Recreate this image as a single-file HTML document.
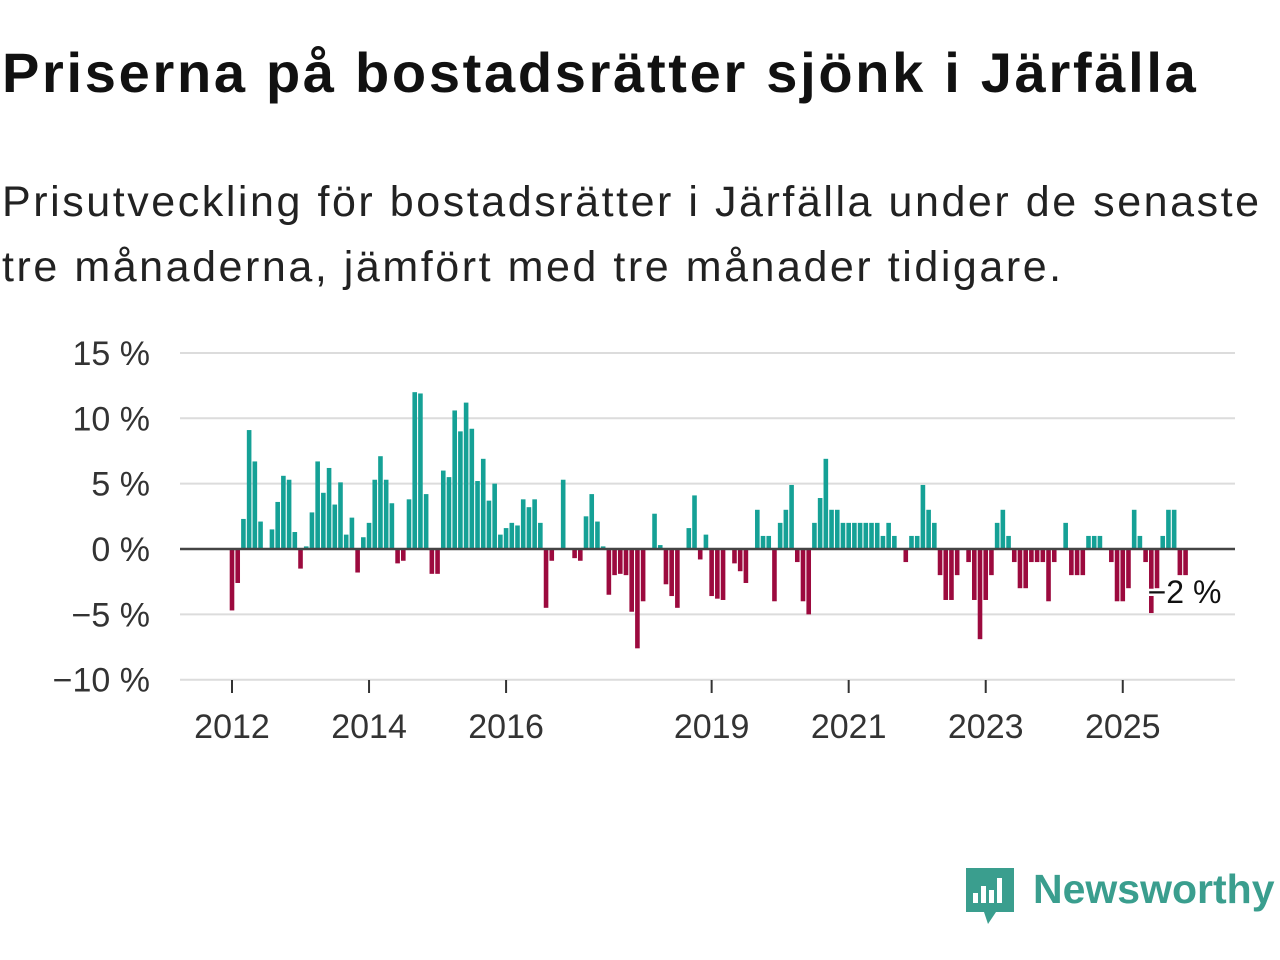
<!DOCTYPE html>
<html><head><meta charset="utf-8"><style>
body{margin:0;width:1280px;height:960px;background:#fff;overflow:hidden;font-family:"Liberation Sans","DejaVu Sans",sans-serif;}
#title{position:absolute;left:2px;top:40px;font-size:56px;font-weight:bold;color:#111;margin:0;letter-spacing:2.7px;white-space:nowrap}
#sub{position:absolute;left:2px;top:170px;font-size:43px;line-height:65px;color:#222;margin:0;width:1278px;letter-spacing:2.55px}
svg{position:absolute;left:0;top:0}
</style></head><body>
<h1 id="title">Priserna på bostadsrätter sjönk i Järfälla</h1>
<p id="sub">Prisutveckling för bostadsrätter i Järfälla under de senaste tre månaderna, jämfört med tre månader tidigare.</p>
<svg id="chart" width="1280" height="960"></svg>
<script>
const startYear = 2012;
const values = [-4.7,-2.6,2.3,9.1,6.7,2.1,0,1.5,3.6,5.6,5.3,1.3,
-1.5,0.2,2.8,6.7,4.3,6.2,3.4,5.1,1.1,2.4,-1.8,0.9,
2.0,5.3,7.1,5.3,3.5,-1.1,-0.9,3.8,12.0,11.9,4.2,-1.9,
-1.9,6.0,5.5,10.6,9.0,11.2,9.2,5.2,6.9,3.7,5.0,1.1,
1.6,2.0,1.8,3.8,3.2,3.8,2.0,-4.5,-0.9,0,5.3,0,
-0.7,-0.9,2.5,4.2,2.1,0.2,-3.5,-2.0,-1.9,-2.0,-4.8,-7.6,
-4.0,0,2.7,0.3,-2.7,-3.6,-4.5,0,1.6,4.1,-0.8,1.1,
-3.6,-3.8,-3.9,0,-1.1,-1.7,-2.6,0,3.0,1.0,1.0,-4.0,
2.0,3.0,4.9,-1.0,-4.0,-5.0,2.0,3.9,6.9,3.0,3.0,2.0,
2.0,2.0,2.0,2.0,2.0,2.0,1.0,2.0,1.0,0,-1.0,1.0,
1.0,4.9,3.0,2.0,-2.0,-3.9,-3.9,-2.0,0,-1.0,-3.9,-6.9,
-3.9,-2.0,2.0,3.0,1.0,-1.0,-3.0,-3.0,-1.0,-1.0,-1.0,-4.0,
-1.0,0,2.0,-2.0,-2.0,-2.0,1.0,1.0,1.0,0,-1.0,-4.0,
-4.0,-3.0,3.0,1.0,-1.0,-4.9,-3.0,1.0,3.0,3.0,-2.0,-2.0];
const yTicks = [15,10,5,0,-5,-10];
const yTickLabels = ["15 %","10 %","5 %","0 %","\u22125 %","\u221210 %"];
const xTickYears = [2012,2014,2016,2019,2021,2023,2025];
const annotation = "\u22122 %";
const NS="http://www.w3.org/2000/svg";
const svg=document.getElementById('chart');
const y=v=>549-v*13.07;
const x=i=>232+i*5.71;
const xYear=yr=>x((yr-startYear)*12);
function mk(t,a){const e=document.createElementNS(NS,t);for(const k in a)e.setAttribute(k,a[k]);svg.appendChild(e);return e;}
yTicks.forEach((t,k)=>{
  const g=mk('line',{x1:180,x2:1235,y1:y(t),y2:y(t),stroke:'#dcdcdc','stroke-width':2});
  
  
  const l=mk('text',{x:150,y:y(t)+12,'text-anchor':'end','font-size':34,fill:'#333','font-family':'Liberation Sans, sans-serif'});
  l.textContent=yTickLabels[k];
  
  
});
values.forEach((v,i)=>{
  if(v===0)return;
  const r=mk('rect',{x:x(i)-2.3,width:4.6,y:Math.min(y(v),y(0)),height:Math.abs(y(v)-y(0)),fill:v>0?'#15a196':'#9c0a3e'});
  
  
});
const z=mk('line',{x1:180,x2:1235,y1:y(0),y2:y(0),stroke:'#444','stroke-width':2.5});


xTickYears.forEach(yr=>{
  const t=mk('line',{x1:xYear(yr),x2:xYear(yr),y1:680,y2:693,stroke:'#333','stroke-width':2});
  
  
  const l=mk('text',{x:xYear(yr),y:738,'text-anchor':'middle','font-size':34,fill:'#333','font-family':'Liberation Sans, sans-serif'});
  l.textContent=yr;
  
  
});
const last=values.length-1;
const a=mk('text',{x:x(last)-38,y:y(-3.2)+12,'font-size':32,fill:'#111',stroke:'#fff','stroke-width':5,'paint-order':'stroke','font-family':'Liberation Sans, sans-serif'});
a.textContent=annotation;


</script>
<svg width="1280" height="960" style="pointer-events:none">
<path d="M966 868 h48 v44 h-18 l-8 12 l-4 -12 h-18 z" fill="#3a9e8e"/>
<rect x="973" y="893" width="5" height="10" fill="#fff"/>
<rect x="981" y="886" width="5" height="17" fill="#fff"/>
<rect x="989" y="890" width="5" height="13" fill="#fff"/>
<rect x="997" y="878" width="5" height="25" fill="#fff"/>
<text x="1033" y="903" font-size="41" font-weight="bold" fill="#3a9e8e" font-family="Liberation Sans, sans-serif">Newsworthy</text>
</svg>
</body></html>
